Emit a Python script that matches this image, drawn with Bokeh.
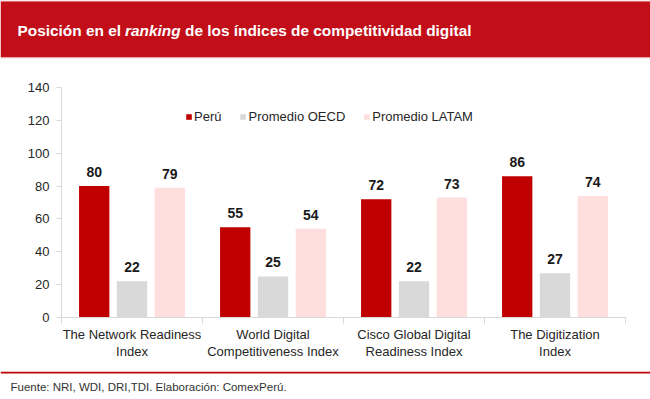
from bokeh.plotting import figure
from bokeh.layouts import column, row
from bokeh.models import (Range1d, FixedTicker, ColumnDataSource, Legend, LegendItem)
from bokeh.transform import dodge
from bokeh.core.properties import value
from bokeh.embed import file_html
from bokeh.resources import INLINE

categories = ["The Network Readiness\nIndex", "World Digital\nCompetitiveness Index",
              "Cisco Global Digital\nReadiness Index", "The Digitization\nIndex"]
peru = [80, 55, 72, 86]
oecd = [22, 25, 22, 27]
latam = [79, 54, 73, 74]
series_names = ["Perú", "Promedio OECD", "Promedio LATAM"]
y_ticks = [0, 20, 40, 60, 80, 100, 120, 140]
title_parts = ["Posición en el", "ranking", "de los índices de competitividad digital"]
source_text = "Fuente: NRI, WDI, DRI,TDI. Elaboración: ComexPerú."

FONT = "Liberation Sans"
W = 650
colors = ["#C00000", "#D9D9D9", "#FFDEDE"]
offsets = [-0.268, 0.0, 0.268]


def blank_fig(h):
    f = figure(width=W, height=h, output_backend="svg", toolbar_location=None,
               x_range=Range1d(0, W), y_range=Range1d(h, 0),
               x_axis_type=None, y_axis_type=None, title=None,
               min_border=0, min_border_left=0, min_border_right=0,
               min_border_top=0, min_border_bottom=0,
               background_fill_color="white", border_fill_color="white")
    f.grid.visible = False
    f.outline_line_color = None
    return f


# ---- banner ----
BH = 60
banner = blank_fig(BH)
banner.quad(left=[0], right=[W], top=[0], bottom=[1], fill_color="#E9A3A6", line_color=None)
banner.quad(left=[0], right=[W], top=[1], bottom=[57], fill_color="#C10E18", line_color=None)
banner.quad(left=[0], right=[W], top=[57], bottom=[58], fill_color="#F3CDD0", line_color=None)
title_x = [17, 124.5, 184.5]
for t, x in zip(title_parts, title_x):
    banner.text(x=[x], y=[30], text=[t], text_baseline="middle", text_align="left",
                text_color="white", text_font=value(FONT), text_font_size="15.4px",
                text_font_style="bold italic" if t == "ranking" else "bold")

# ---- main chart ----
xs = [i + 0.5 for i in range(len(categories))]
src = ColumnDataSource(dict(
    x=xs, peru=peru, oecd=oecd, latam=latam,
    peru_t=[str(v) for v in peru], oecd_t=[str(v) for v in oecd], latam_t=[str(v) for v in latam],
))

MH = 371 - BH
p = figure(width=W, height=MH, output_backend="svg", toolbar_location=None,
           x_range=Range1d(0, len(categories)), y_range=Range1d(0, 140),
           min_border_left=61, min_border_right=25, min_border_top=87 - BH,
           min_border_bottom=371 - 317,
           background_fill_color="white", border_fill_color="white")
p.outline_line_color = None
p.xgrid.visible = False
p.ygrid.visible = False

renderers = []
for col, c, off in zip(["peru", "oecd", "latam"], colors, offsets):
    r = p.vbar(x=dodge("x", off, range=p.x_range), top=col, width=0.215, bottom=0,
               source=src, fill_color=c, line_color=None)
    renderers.append(r)
    p.text(x=dodge("x", off, range=p.x_range), y=col, text=col + "_t", source=src,
           text_align="center", text_baseline="bottom", y_offset=-9,
           text_font=value(FONT), text_font_style="bold", text_font_size="14px",
           text_color="#1a1a1a")

yax = p.yaxis[0]
yax.ticker = FixedTicker(ticks=y_ticks)
yax.axis_line_color = "#d9d9d9"
yax.major_tick_line_color = "#d9d9d9"
yax.major_tick_out = 5
yax.major_tick_in = 0
yax.minor_tick_line_color = None
yax.major_label_standoff = 7
yax.major_label_text_font = FONT
yax.major_label_text_font_size = "13px"
yax.major_label_text_color = "#262626"

xax = p.xaxis[0]
xax.ticker = FixedTicker(ticks=xs, minor_ticks=list(range(len(categories) + 1)))
xax.major_label_overrides = {x: c for x, c in zip(xs, categories)}
xax.axis_line_color = "#d9d9d9"
xax.major_tick_line_color = None
xax.major_tick_out = 0
xax.major_tick_in = 0
xax.minor_tick_line_color = "#d9d9d9"
xax.minor_tick_out = 6
xax.minor_tick_in = 0
xax.major_label_standoff = 3
xax.major_label_text_font = FONT
xax.major_label_text_font_size = "13px"
xax.major_label_text_line_height = 1.15
xax.major_label_text_color = "#262626"

legend = Legend(items=[LegendItem(label=n, renderers=[r]) for n, r in zip(series_names, renderers)],
                orientation="horizontal", location=(124, 193),
                glyph_width=7, glyph_height=7, label_standoff=2, spacing=18,
                padding=0, margin=0, border_line_color=None, background_fill_alpha=0,
                label_text_font=FONT, label_text_font_size="13px", label_text_color="#262626",
                label_height=14)
p.add_layout(legend, "center")

# ---- footer ----
FH = 399 - 371
footer = blank_fig(FH)
footer.quad(left=[0], right=[W], top=[0], bottom=[2], fill_color="#C00000", line_color=None)
footer.text(x=[10], y=[15], text=[source_text], text_baseline="middle", text_align="left",
            text_color="#333333", text_font=value(FONT), text_font_size="11.5px")

layout = column(row(banner), row(p), row(footer), spacing=0)
open("out.html", "w").write(file_html(layout, INLINE))
